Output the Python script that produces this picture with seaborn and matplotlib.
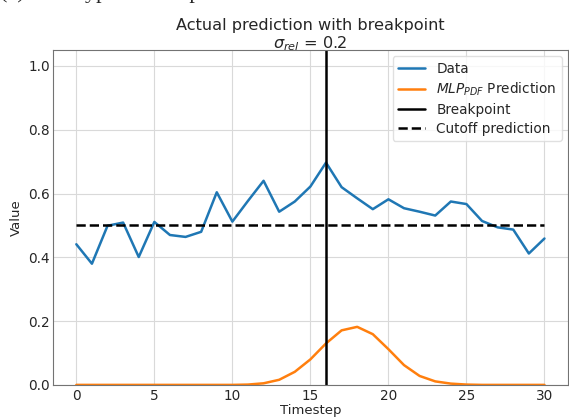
import numpy as np
import pandas as pd
import matplotlib
matplotlib.use("Agg")
import matplotlib.pyplot as plt
import seaborn as sns

timesteps = list(range(31))
data_values = [0.441, 0.380, 0.499, 0.509, 0.401, 0.511, 0.470, 0.464, 0.480, 0.604,
               0.512, 0.577, 0.640, 0.543, 0.575, 0.622, 0.697, 0.620, 0.585, 0.551,
               0.582, 0.554, 0.543, 0.531, 0.575, 0.567, 0.514, 0.494, 0.487, 0.412,
               0.459]
mlp_values = [0.0, 0.0, 0.0, 0.0, 0.0, 0.0, 0.0, 0.0, 0.0, 0.0,
              0.0, 0.001, 0.005, 0.016, 0.041, 0.080, 0.130, 0.171, 0.182, 0.159,
              0.112, 0.062, 0.028, 0.011, 0.004, 0.001, 0.0, 0.0, 0.0, 0.0,
              0.0]
breakpoint_t = 16
cutoff = 0.5
title_lines = ["Actual prediction with breakpoint", r"$\sigma_{rel}$ = 0.2"]
yticks = [0.0, 0.2, 0.4, 0.6, 0.8, 1.0]
xticks = [0, 5, 10, 15, 20, 25, 30]

sns.set_style("whitegrid", {"axes.edgecolor": "0.45", "grid.color": "0.85"})
plt.rcParams["font.family"] = ["DejaVu Sans"]

df = pd.DataFrame({"Timestep": timesteps, "Data": data_values, "MLP": mlp_values})

fig = plt.figure(figsize=(5.69, 4.17), dpi=100)
ax = fig.add_axes([0.093, 0.077, 0.905, 0.803])

blue = "#1f77b4"
orange = "#ff7f0e"
sns.lineplot(data=df, x="Timestep", y="Data", ax=ax, color=blue, lw=1.8, label="Data")
sns.lineplot(data=df, x="Timestep", y="MLP", ax=ax, color=orange, lw=1.8,
             label=r"$MLP_{PDF}$ Prediction")
ax.axvline(breakpoint_t, color="black", lw=1.8, label="Breakpoint")
ax.hlines(cutoff, timesteps[0], timesteps[-1], colors="black", linestyles="--",
          lw=1.8, label="Cutoff prediction")

ax.set_xlim(-1.5, 31.5)
ax.set_ylim(0, 1.05)
ax.set_xticks(xticks)
ax.set_yticks(yticks)
ax.set_xticklabels([str(t) for t in xticks], fontsize=9.8)
ax.set_yticklabels([f"{v:.1f}" for v in yticks], fontsize=9.8)
ax.tick_params(axis="x", length=0, pad=3)
ax.tick_params(axis="y", length=0, pad=2)
ax.set_xlabel("Timestep", fontsize=9.5, labelpad=1)
ax.set_ylabel("Value", fontsize=9.5, labelpad=4)
ax.set_title("\n".join(title_lines), fontsize=11.6, linespacing=1.1, pad=1)

leg = ax.legend(loc="upper right", fontsize=9.8, frameon=True, framealpha=0.8,
                edgecolor="0.85", borderaxespad=0.45, handlelength=2.0,
                labelspacing=0.36)
for line in leg.get_lines():
    line.set_linewidth(1.8)

fig.text(0.0, 1 + 2 / 417, "(c)", family="Liberation Serif",
         fontsize=16, va="baseline", ha="left")
fig.text(69 / 569, 1 + 2 / 417, "Hypothetical prediction", family="Liberation Serif",
         fontsize=16, va="baseline", ha="left")

fig.savefig("out.png", dpi=100)
